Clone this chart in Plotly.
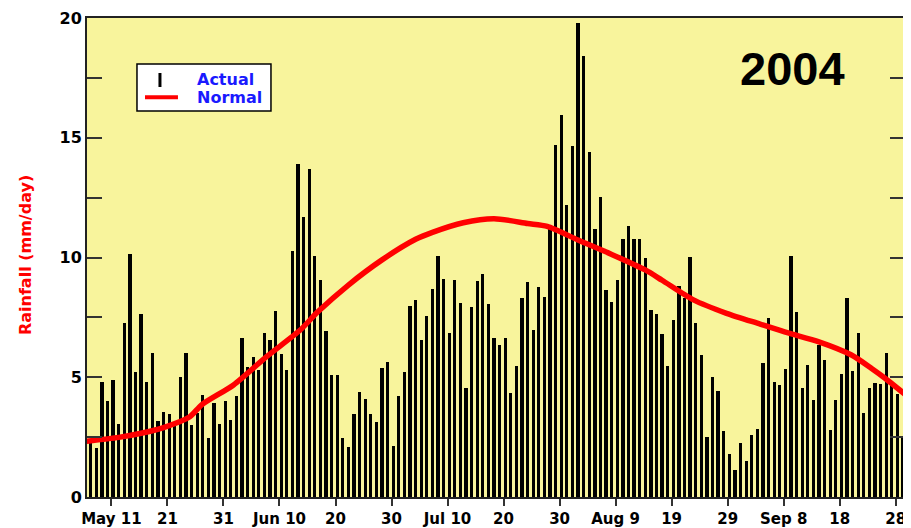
import plotly.graph_objects as go

# ---- data ----
actual = [
    2.30, 2.05, 4.82, 4.00, 4.87, 3.06, 7.27, 10.14, 5.20, 7.66,
    4.82, 6.02, 3.18, 3.57, 3.45, 3.04, 4.99, 6.02, 3.00, 3.50,
    4.26, 2.48, 3.94, 3.03, 4.00, 3.23, 4.22, 6.62, 5.43, 5.85,
    5.32, 6.85, 6.57, 7.77, 5.96, 5.32, 10.27, 13.89, 11.69, 13.71,
    10.05, 9.08, 6.94, 5.10, 5.10, 2.48, 2.09, 3.45, 4.37, 4.11,
    3.45, 3.13, 5.38, 5.64, 2.13, 4.22, 5.20, 7.98, 8.22, 6.57,
    7.55, 8.70, 10.07, 9.12, 6.84, 9.08, 8.09, 4.54, 7.94, 9.03,
    9.30, 8.04, 6.63, 6.35, 6.63, 4.33, 5.49, 8.33, 8.98, 6.96,
    8.76, 8.37, 11.36, 14.70, 15.95, 12.18, 14.64, 19.78, 18.40, 14.42,
    11.20, 12.51, 8.63, 8.16, 9.07, 10.77, 11.30, 10.76, 10.76, 9.99,
    7.82, 7.65, 6.79, 5.49, 7.40, 8.80, 8.33, 10.01, 7.27, 5.92,
    2.52, 5.03, 4.43, 2.76, 1.81, 1.11, 2.24, 1.49, 2.58, 2.84,
    5.58, 7.49, 4.82, 4.68, 5.36, 10.07, 7.72, 4.54, 5.53, 4.05,
    6.35, 5.70, 2.80, 4.05, 5.15, 8.31, 5.26, 6.84, 3.51, 4.54,
    4.76, 4.71, 6.02, 4.76, 4.32, 2.55,
]
first_day = 7  # day number of first bar (May 1 = day 1)

normal_days = [6.3, 12, 16, 20, 24.7, 26.8, 32.5, 38.4, 44.4, 47.5, 53, 59, 65, 68,
               73.5, 79, 85, 88.5, 94, 100, 106, 109, 114.6, 120.5, 126.5, 131.5,
               137, 142.8, 146.4, 148.8, 152.4]
normal_vals = [2.33, 2.49, 2.66, 2.90, 3.35, 3.85, 4.68, 5.86, 6.97, 7.72, 8.85, 9.90,
               10.76, 11.05, 11.45, 11.62, 11.42, 11.30, 10.73, 10.13, 9.48, 9.05,
               8.23, 7.67, 7.22, 6.85, 6.48, 5.93, 5.37, 4.96, 4.28]

tick_days = [11, 21, 31, 41, 51, 61, 71, 81, 91, 101, 111, 121, 131, 141, 151]
tick_labels = ["May 11", "21", "31", "Jun 10", "20", "30", "Jul 10", "20", "30",
               "Aug 9", "19", "29", "Sep 8", "18", "28"]
y_ticks = [0, 2.5, 5, 7.5, 10, 12.5, 15, 17.5, 20]
y_labels = ["0", "", "5", "", "10", "", "15", "", "20"]

days = [first_day + i for i in range(len(actual))]

FONT = "DejaVu Sans, Liberation Sans, Arial, sans-serif"
FONT2 = "Liberation Sans, Arial, sans-serif"

fig = go.Figure()
fig.add_trace(go.Bar(x=days, y=actual, width=0.58, marker=dict(color="black", line=dict(width=0)),
                     name="Actual", showlegend=False))
fig.add_trace(go.Scatter(x=normal_days, y=normal_vals, mode="lines", name="Normal",
                         line=dict(color="#ff0000", width=5.5, shape="spline", smoothing=0.7),
                         showlegend=False))

# page body has an 8px default margin, so the figure is sized 8px smaller
fig.update_layout(
    width=903, height=520,
    margin=dict(l=79, r=6, t=10, b=31, autoexpand=False),
    paper_bgcolor="white",
    plot_bgcolor="#f8f49c",
    font=dict(family=FONT, color="black"),
    bargap=0,
)
fig.update_xaxes(
    range=[6.34, 152.36], automargin=False,
    tickvals=[d - 0.3 for d in tick_days], ticktext=tick_labels,
    ticks="outside", ticklen=7, tickwidth=2, tickcolor="#333333",
    showline=True, linecolor="#222222", linewidth=2, mirror=True,
    showgrid=False, zeroline=False,
    tickfont=dict(family=FONT, size=15, color="black", weight="bold"),
)
fig.update_yaxes(
    range=[0, 20], automargin=False,
    tickvals=y_ticks, ticktext=y_labels,
    ticks="inside", ticklen=15, tickwidth=2, tickcolor="#333333",
    showline=True, linecolor="#222222", linewidth=2, mirror="ticks",
    showgrid=False, zeroline=False,
    tickfont=dict(family=FONT, size=16, color="black", weight="bold"),
)

# y axis title
fig.add_annotation(text="Rainfall (mm/day)", xref="paper", yref="paper",
                   x=-0.0758, y=0.505, xanchor="center", yanchor="middle",
                   textangle=-90, showarrow=False,
                   font=dict(family=FONT, size=16, color="#ff0000", weight="bold"))
# year label
fig.add_annotation(text="2004", xref="paper", yref="paper", x=0.863, y=0.895,
                   xanchor="center", yanchor="middle",
                   showarrow=False, font=dict(family=FONT2, size=47, color="black", weight="bold"))

# legend box (drawn)
fig.add_shape(type="rect", xref="paper", yref="paper", x0=0.0611, x1=0.2249, y0=0.8058, y1=0.904,
              line=dict(color="black", width=1.5), fillcolor="white")
fig.add_shape(type="line", xref="paper", yref="paper", x0=0.0892, x1=0.0892, y0=0.8559, y1=0.8852,
              line=dict(color="black", width=3))
fig.add_shape(type="line", xref="paper", yref="paper", x0=0.0709, x1=0.1112, y0=0.8345, y1=0.8345,
              line=dict(color="#ff0000", width=4))
fig.add_annotation(text="Actual", xref="paper", yref="paper", x=0.132, y=0.8706, xanchor="left",
                   yanchor="middle", showarrow=False,
                   font=dict(family=FONT, size=16, color="#1a1aff", weight="bold"))
fig.add_annotation(text="Normal", xref="paper", yref="paper", x=0.132, y=0.833, xanchor="left",
                   yanchor="middle", showarrow=False,
                   font=dict(family=FONT, size=16, color="#1a1aff", weight="bold"))

fig.write_html("out.html")
